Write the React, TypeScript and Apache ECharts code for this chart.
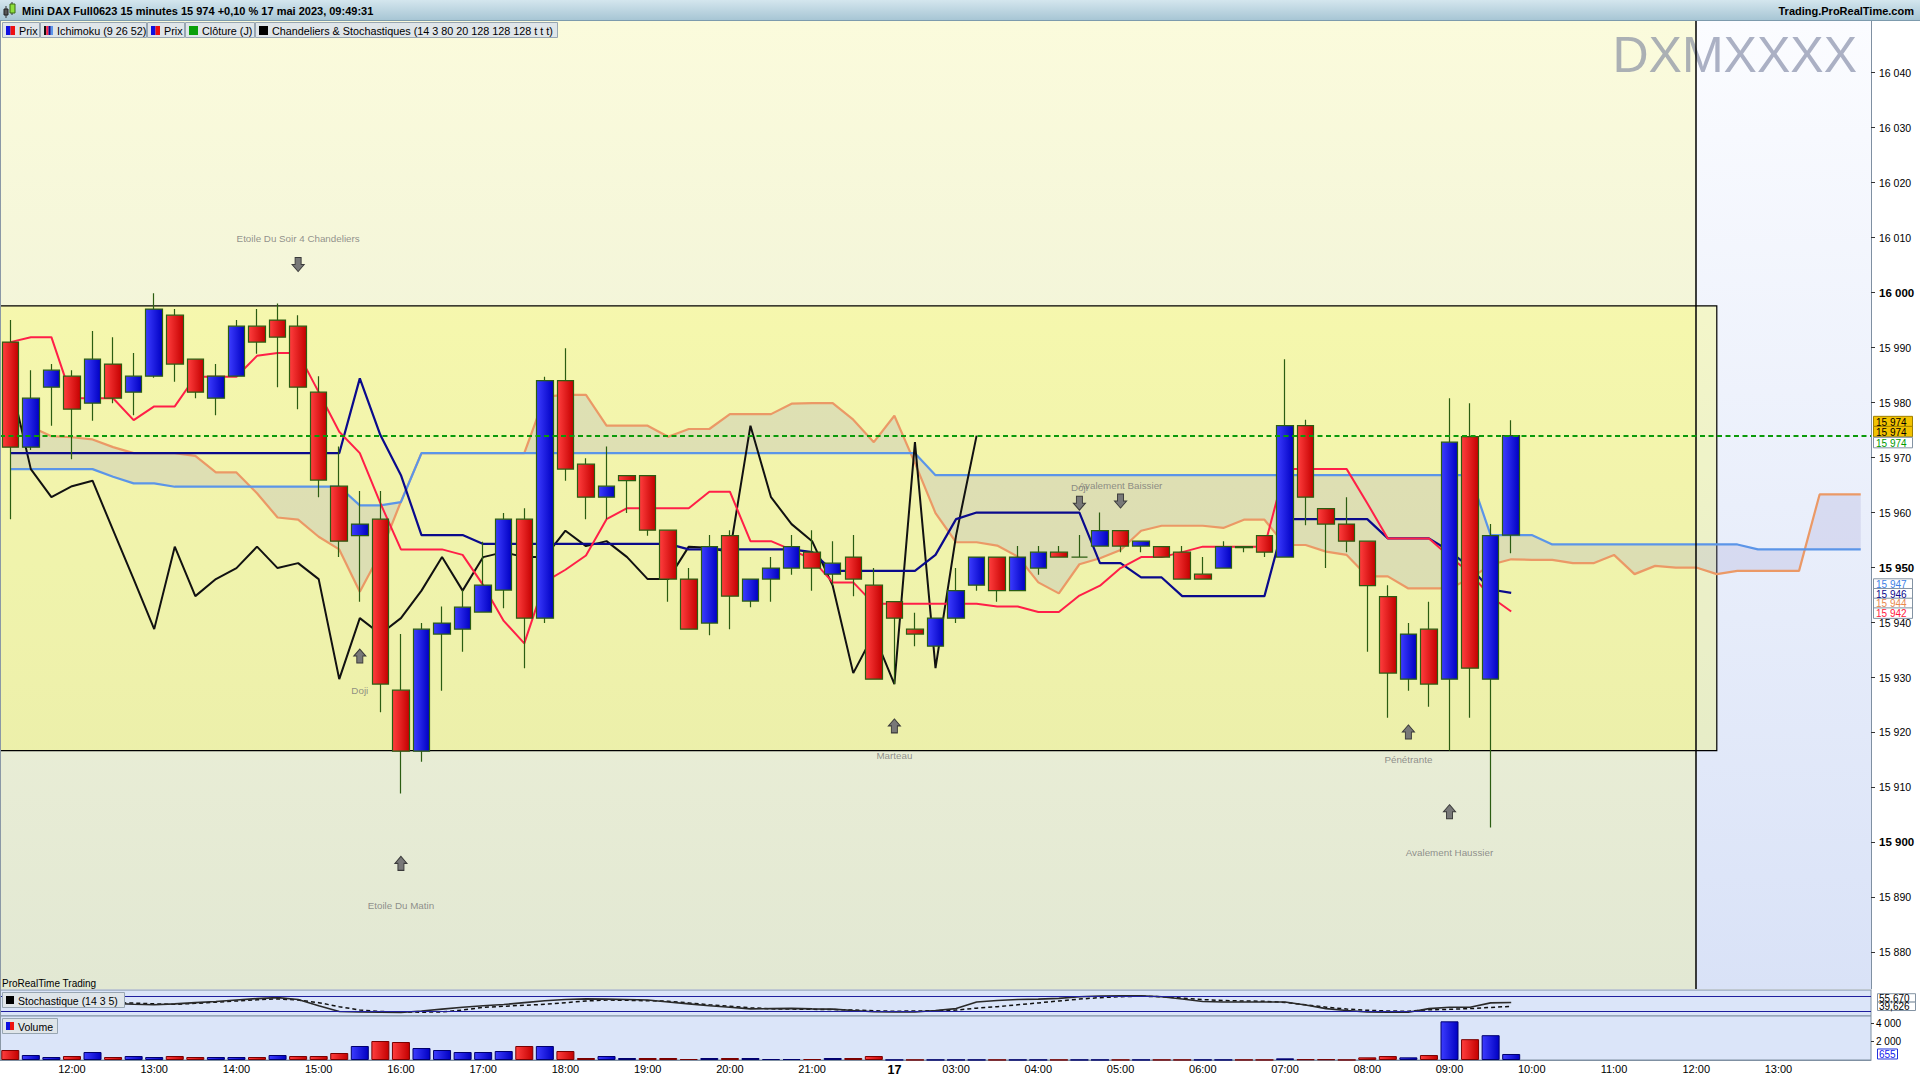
import React, { useEffect, useRef } from "react";
import * as echarts from "echarts";

const FONT = '"Liberation Sans", Arial, Helvetica, sans-serif';

// ---------- categories (15 minute bars) ----------
const day16Times = ["11:15","11:30","11:45","12:00","12:15","12:30","12:45","13:00","13:15","13:30","13:45","14:00","14:15","14:30","14:45","15:00","15:15","15:30","15:45","16:00","16:15","16:30","16:45","17:00","17:15","17:30","17:45","18:00","18:15","18:30","18:45","19:00","19:15","19:30","19:45","20:00","20:15","20:30","20:45","21:00","21:15","21:30","21:45"];
const day17Times = ["02:15","02:30","02:45","03:00","03:15","03:30","03:45","04:00","04:15","04:30","04:45","05:00","05:15","05:30","05:45","06:00","06:15","06:30","06:45","07:00","07:15","07:30","07:45","08:00","08:15","08:30","08:45","09:00","09:15","09:30","09:45"];
const futureTimes = ["10:00","10:15","10:30","10:45","11:00","11:15","11:30","11:45","12:00","12:15","12:30","12:45","13:00","13:15","13:30","13:45","14:00"];
const categories = [
  ...day16Times.map((t) => "16 " + t),
  ...day17Times.map((t) => "17 " + t),
  ...futureTimes.map((t) => "17 " + t),
];
const dayStartIndex = day16Times.length;
const nowLineTime = "17 12:00";

// ---------- OHLC ----------
const opens = [15991.0,15971.9,15982.8,15984.8,15979.9,15987.0,15981.9,15984.8,15995.9,15987.9,
  15980.8,15984.8,15993.9,15995.0,15993.9,15981.9,15964.8,15955.8,15958.8,15927.7,
  15916.6,15937.9,15938.8,15941.9,15945.9,15958.8,15940.8,15984.0,15968.8,15962.8,
  15966.7,15966.7,15956.8,15947.9,15939.9,15955.8,15943.9,15947.9,15949.9,15952.8,
  15948.8,15951.9,15946.8,15943.8,15938.8,15935.7,15940.8,15946.8,15951.9,15945.8,
  15949.9,15952.8,15951.9,15953.9,15956.7,15953.9,15953.8,15952.8,15948.8,15949.9,
  15953.8,15955.8,15951.9,15975.8,15960.7,15957.9,15954.8,15944.7,15929.7,15938.8,
  15929.7,15973.8,15929.7,15955.9];
const closes = [15971.9,15980.8,15985.9,15978.8,15987.9,15980.8,15984.8,15997.0,15987.0,15981.9,
  15984.8,15993.9,15991.0,15991.9,15982.8,15965.9,15954.8,15957.9,15928.8,15916.6,
  15938.8,15939.9,15942.8,15946.8,15958.8,15940.8,15984.0,15967.9,15962.8,15964.8,
  15965.8,15956.8,15947.9,15938.8,15953.8,15944.8,15947.9,15949.9,15953.8,15949.9,
  15950.8,15947.9,15929.7,15940.8,15937.9,15940.8,15945.8,15951.9,15945.8,15951.9,
  15952.8,15951.9,15951.9,15956.7,15953.9,15954.8,15951.9,15947.9,15947.9,15953.8,
  15953.6,15952.8,15975.8,15962.8,15957.9,15954.8,15946.7,15930.8,15937.9,15928.8,
  15972.8,15931.7,15955.8,15974.0];
const lows = [15958.8,15971.4,15975.8,15969.7,15976.7,15979.9,15977.7,15984.5,15983.8,15980.8,
  15977.7,15984.8,15988.9,15982.8,15978.8,15962.8,15951.9,15943.8,15923.7,15908.9,
  15914.7,15927.6,15934.7,15941.9,15942.6,15931.7,15939.9,15965.8,15958.8,15958.8,
  15959.9,15955.8,15943.8,15938.8,15937.7,15938.8,15942.8,15943.8,15948.7,15945.8,
  15946.8,15944.8,15929.7,15928.8,15935.7,15935.7,15939.9,15945.8,15943.8,15945.8,
  15948.7,15951.9,15951.9,15953.9,15952.8,15952.8,15951.9,15947.9,15947.9,15949.9,
  15952.8,15951.9,15951.9,15957.7,15949.9,15952.8,15934.7,15922.7,15927.6,15924.7,
  15916.7,15922.7,15902.7,15952.6];
const highs = [15995.0,15985.9,15987.0,15985.9,15993.0,15991.9,15989.0,15999.9,15997.0,15988.0,
  15987.0,15995.0,15997.0,15998.0,15995.9,15984.8,15972.0,15963.9,15963.9,15937.9,
  15939.9,15942.9,15945.9,15954.7,15959.9,15960.8,15984.7,15989.9,15969.9,15972.0,
  15966.7,15966.7,15956.8,15949.9,15955.9,15956.8,15947.9,15951.9,15955.9,15956.8,
  15954.8,15955.9,15949.9,15943.8,15941.8,15940.8,15949.9,15951.9,15951.9,15953.9,
  15953.9,15953.9,15955.9,15960.0,15956.7,15954.8,15953.8,15953.9,15951.9,15954.8,
  15953.9,15955.8,15987.9,15976.9,15960.7,15962.8,15954.8,15946.8,15939.9,15943.8,
  15980.8,15979.9,15957.9,15976.8];

// ---------- Ichimoku (9 26 52) ----------
const tenkan = [15991.0,15991.9,15991.9,15980.8,15980.8,15980.8,15976.8,15979.3,15979.3,15984.7,
  15984.7,15984.7,15988.5,15989.0,15989.0,15981.9,15974.7,15970.8,15961.7,15953.3,
  15953.3,15953.3,15952.3,15946.8,15940.3,15936.2,15947.4,15949.6,15952.2,15958.8,
  15960.8,15960.8,15960.8,15960.8,15963.8,15963.8,15954.8,15954.8,15953.2,15951.5,
  15947.3,15947.3,15943.4,15943.4,15943.4,15943.4,15943.4,15943.4,15942.9,15942.9,
  15941.9,15941.9,15944.9,15946.7,15949.9,15951.9,15951.9,15952.8,15953.8,15953.8,
  15953.8,15953.8,15967.9,15967.9,15967.9,15967.9,15961.7,15955.3,15955.3,15955.3,
  15952.0,15949.0,15944.7,15942.0];
const kijun = [15970.8,15970.8,15970.8,15970.8,15970.8,15970.8,15970.8,15970.8,15970.8,15970.8,
  15970.8,15970.8,15970.8,15970.8,15970.8,15970.8,15970.8,15984.4,15974.1,15966.8,
  15955.9,15955.9,15955.9,15954.3,15954.3,15954.3,15954.3,15954.3,15954.3,15954.3,
  15954.3,15954.3,15954.3,15953.3,15953.3,15953.3,15953.3,15953.3,15953.3,15952.8,
  15949.4,15949.4,15949.4,15949.4,15949.4,15952.3,15958.8,15960.0,15960.0,15960.0,
  15960.0,15960.0,15960.0,15950.8,15950.8,15948.2,15948.2,15944.8,15944.8,15944.8,
  15944.8,15944.8,15958.8,15958.8,15958.8,15958.8,15958.8,15955.3,15955.3,15955.3,
  15953.0,15950.0,15946.0,15945.4];
const spanA = [15967.9,15967.9,15967.9,15967.9,15967.9,15966.5,15965.3,15965.3,15964.7,15964.7,
  15964.7,15964.7,15964.7,15964.7,15964.7,15964.7,15964.7,15961.3,15961.3,15961.9,
  15970.8,15970.8,15970.8,15970.8,15970.8,15970.8,15970.8,15970.8,15970.8,15970.8,
  15970.8,15970.8,15970.8,15970.8,15970.8,15970.8,15970.8,15970.8,15970.8,15970.8,
  15970.8,15970.8,15970.8,15970.8,15970.8,15966.8,15966.8,15966.8,15966.8,15966.8,
  15966.8,15966.8,15966.8,15966.8,15966.8,15966.8,15966.8,15966.8,15966.8,15966.8,
  15966.8,15966.8,15966.8,15966.8,15966.8,15966.8,15966.8,15966.8,15966.8,15966.8,
  15966.8,15966.8,15955.9,15955.9,15955.9,15954.2,15954.2,15954.2,15954.2,15954.2,
  15954.2,15954.2,15954.2,15954.2,15954.2,15953.3,15953.3,15953.3,15953.3,15953.3,
  15953.3];
const spanB = [15975.8,15975.6,15973.9,15973.7,15973.3,15971.9,15970.8,15970.8,15970.8,15970.3,
  15967.3,15967.3,15963.5,15959.1,15958.7,15955.6,15953.3,15945.6,15952.6,15962.0,
  15970.8,15970.8,15970.8,15970.8,15970.8,15970.8,15981.1,15981.4,15981.4,15975.8,
  15975.8,15975.8,15973.8,15975.2,15975.2,15977.9,15977.9,15977.9,15979.8,15979.9,
  15979.9,15976.9,15972.8,15977.6,15969.0,15959.9,15954.6,15954.6,15954.0,15952.0,
  15947.3,15945.3,15950.6,15951.7,15953.2,15956.7,15957.6,15957.6,15957.6,15957.2,
  15958.7,15958.7,15954.1,15954.1,15952.9,15952.3,15948.4,15948.4,15946.2,15946.2,
  15946.2,15948.0,15950.5,15951.5,15951.4,15951.4,15950.8,15950.8,15952.3,15948.8,
  15950.3,15950.0,15950.0,15948.8,15949.4,15949.4,15949.4,15949.4,15963.3,15963.3,
  15963.3];
const CHIKOU_SHIFT = 26;

// ---------- Stochastic (14 3 5) ----------
const stochK = [55,55,54,54,54,52,48,46,50,55, 60,66,72,76,68,42,18,16,15,14,
  20,28,36,42,47,55,63,68,71,70, 68,66,58,50,42,36,29,30,31,29,
  28,22,17,16,16,22,30,58,64,68, 70,73,80,83,84,84,80,70,60,58,
  58,58,58,45,30,22,16,15,15,30, 36,36,54,55.67];
const stochD = [57,57,57,57,57,56,53,50,48,52, 57,62,67,71,66,55,38,24,18,16,
  15,16,24,35,40,44,48,55,62,66, 65,63,61,54,46,40,34,29,28,27,
  26,24,21,19,20,21,24,32,38,46, 54,62,70,76,80,82,80,74,68,64,
  62,61,56,46,36,28,23,20,19,25, 27,30,35,39.626];
const stochLevels = [80, 20];

// ---------- Volume ----------
const volumes = [1090,545,327,436,872,327,436,327,436,327, 327,327,327,545,436,436,763,1526,2071,1962,
  1308,1090,872,872,981,1526,1526,981,218,436, 218,218,218,109,218,218,218,109,109,109,
  218,218,436,20,20,20,20,20,20,20, 20,20,20,20,20,20,20,20,20,20,
  20,20,180,72,72,20,288,432,288,540, 4216,2270,2703,655];

// ---------- annotations / levels ----------
const lastClose = 15974;
const rectTop = 15997.6;
const rectBottom = 15916.7;
const rectEndIndex = 83;
const patterns = [
  { i: 14, dir: "down", arrow: 16005.1, label: 16009.8, text: "Etoile Du Soir 4 Chandeliers" },
  { i: 17, dir: "up", arrow: 15933.9, label: 15927.6, text: "Doji" },
  { i: 19, dir: "up", arrow: 15896.2, label: 15888.5, text: "Etoile Du Matin" },
  { i: 43, dir: "up", arrow: 15921.2, label: 15915.8, text: "Marteau" },
  { i: 52, dir: "down", arrow: 15961.7, label: 15964.6, text: "Doji" },
  { i: 54, dir: "down", arrow: 15962.1, label: 15965.0, text: "Avalement Baissier" },
  { i: 68, dir: "up", arrow: 15920.1, label: 15915.1, text: "Pénétrante" },
  { i: 70, dir: "up", arrow: 15905.6, label: 15898.2, text: "Avalement Haussier" },
];
const lineTags = [
  { v: 15947, color: "#3d7fe6" },
  { v: 15946, color: "#0a0a8c" },
  { v: 15944, color: "#e8884e" },
  { v: 15942, color: "#ff1a40" },
];
const stochTags = [55.67, 39.626];
const lastVolume = 655;

// ---------- layout ----------
const W = 1920, H = 1080;
const PLOT_RIGHT = 1871;
const MAIN_TOP = 21, MAIN_BOTTOM = 989;
const Y_MIN = 15873.35, Y_MAX = 16049.4;
const ST_TOP = 990, ST_BOTTOM = 1016;
const VOL_TOP = 1016, VOL_BOTTOM = 1060;

const grad = (c1: string, c2: string, horizontal = true) => ({
  type: "linear", x: 0, y: 0, x2: horizontal ? 1 : 0, y2: horizontal ? 0 : 1,
  colorStops: [{ offset: 0, color: c1 }, { offset: 1, color: c2 }],
});
const UP_FILL = grad("#3c3cff", "#0000c2");
const DOWN_FILL = grad("#ff3e3e", "#c40000");
const WICK = "#2b5d12";

const fmtThousands = (v: number) => String(Math.round(v)).replace(/\B(?=(\d{3})+(?!\d))/g, " ");
const UP_ARROW = "path://M6,0 L12,7 L9,7 L9,14 L3,14 L3,7 L0,7 Z";
const DOWN_ARROW = "path://M3,0 L9,0 L9,7 L12,7 L6,14 L0,7 L3,7 Z";

function buildOption(): any {
  const candles = opens.map((o, i) => [o, closes[i], lows[i], highs[i]]);
  const chikou = closes.slice(CHIKOU_SHIFT);
  const nowIdx = categories.indexOf(nowLineTime);
  const gridCommon = { left: 0, right: W - PLOT_RIGHT, outerBoundsMode: "none", containLabel: false };
  const lineS = (data: number[], color: string, width = 2) => ({
    type: "line", xAxisIndex: 0, yAxisIndex: 0, data, symbol: "none", showSymbol: false,
    silent: true, z: 3, lineStyle: { color, width }, animation: false,
  });
  return {
    animation: false,
    backgroundColor: "#ffffff",
    textStyle: { fontFamily: FONT },
    grid: [
      { ...gridCommon, top: MAIN_TOP, height: MAIN_BOTTOM - MAIN_TOP, show: false },
      { ...gridCommon, top: ST_TOP, height: ST_BOTTOM - ST_TOP, show: true, backgroundColor: "#dbe5f9", borderColor: "#7f90a2", borderWidth: 1 },
      { ...gridCommon, top: VOL_TOP, height: VOL_BOTTOM - VOL_TOP, show: true, backgroundColor: "#dbe5f9", borderColor: "#7f90a2", borderWidth: 1 },
    ],
    xAxis: [
      { type: "category", gridIndex: 0, data: categories, boundaryGap: true, show: false },
      { type: "value", gridIndex: 0, min: -0.5, max: categories.length - 0.5, show: false },
      { type: "category", gridIndex: 1, data: categories, boundaryGap: true, show: false },
      {
        type: "category", gridIndex: 2, data: categories, boundaryGap: true,
        axisLine: { show: true, onZero: false, lineStyle: { color: "#7f90a2" } },
        axisTick: { show: false },
        axisLabel: {
          show: true, margin: 3, color: "#000", fontSize: 11, fontFamily: FONT,
          interval: (index: number) => {
            if (index === dayStartIndex) return true;
            return categories[index].endsWith(":00") && index < categories.length - 1;
          },
          formatter: (value: string, index: number) => (index === dayStartIndex ? "{d|17}" : value.slice(3)),
          rich: { d: { fontWeight: "bold", fontSize: 12.5, fontFamily: FONT, color: "#000" } },
        },
      },
    ],
    yAxis: [
      {
        type: "value", gridIndex: 0, position: "right", min: Y_MIN, max: Y_MAX, splitNumber: 18,
        splitLine: { show: false },
        axisLine: { show: true, onZero: false, lineStyle: { color: "#7f90a2", width: 1 } },
        axisTick: { show: true, length: 4, lineStyle: { color: "#333" } },
        axisLabel: {
          show: true, margin: 8, color: "#000", fontSize: 10.5, fontFamily: FONT,
          showMinLabel: false, showMaxLabel: false,
          formatter: (v: number) => {
            const r = Math.round(v);
            const s = fmtThousands(r);
            return r % 50 === 0 ? `{b|${s}}` : s;
          },
          rich: { b: { fontWeight: "bold", fontSize: 11.5, fontFamily: FONT, color: "#000" } },
        },
      },
      { type: "value", gridIndex: 1, position: "right", min: -1, max: 108.1, show: false, axisLine: { onZero: false } },
      {
        type: "value", gridIndex: 2, position: "right", min: 0, max: 4796, interval: 2000,
        splitLine: { show: false },
        axisLine: { show: false, onZero: false },
        axisTick: { show: true, length: 3, lineStyle: { color: "#333" } },
        axisLabel: {
          show: true, margin: 5, color: "#000", fontSize: 10, fontFamily: FONT,
          showMinLabel: false, showMaxLabel: false,
          formatter: (v: number) => fmtThousands(v),
        },
      },
    ],
    series: [
      // backgrounds (yellow before the 12:00 line, blue after)
      {
        type: "line", xAxisIndex: 1, yAxisIndex: 0, data: [[0, 15950]], symbol: "none",
        lineStyle: { opacity: 0 }, silent: true, z: 0,
        markArea: {
          silent: true, z: 0,
          data: [
            [{ xAxis: -0.5, yAxis: Y_MAX, itemStyle: { color: grad("#fbfbdc", "#e2e8d3", false) } }, { xAxis: nowIdx, yAxis: Y_MIN }],
            [{ xAxis: nowIdx, yAxis: Y_MAX, itemStyle: { color: grad("#fbfcff", "#d9e2f7", false) } }, { xAxis: categories.length - 0.5, yAxis: Y_MIN }],
          ],
        },
      },
      // rectangle zone + vertical "now" line
      {
        type: "line", xAxisIndex: 1, yAxisIndex: 0, data: [[0, 15950]], symbol: "none",
        lineStyle: { opacity: 0 }, silent: true, z: 1,
        markArea: {
          silent: true, z: 1,
          itemStyle: { color: "rgba(255,255,0,0.2)", borderColor: "#000", borderWidth: 1.2 },
          data: [[{ xAxis: -0.5, yAxis: rectTop }, { xAxis: rectEndIndex, yAxis: rectBottom }]],
        },
        markLine: {
          silent: true, z: 5, symbol: ["none", "none"], label: { show: false },
          lineStyle: { color: "#000", width: 1.5, type: "solid" },
          data: [{ xAxis: nowIdx }],
        },
      },
      // Kumo fill
      {
        type: "custom", xAxisIndex: 0, yAxisIndex: 0, z: 2, silent: true,
        data: [[0, spanA[0]]],
        renderItem: (params: any, api: any) => {
          if (params.dataIndex !== 0) return null;
          const pts: number[][] = [];
          for (let i = 0; i < spanA.length; i++) pts.push(api.coord([i, spanA[i]]));
          for (let i = spanB.length - 1; i >= 0; i--) pts.push(api.coord([i, spanB[i]]));
          return { type: "polygon", shape: { points: pts }, style: { fill: "rgba(150,150,205,0.22)" } };
        },
      },
      lineS(spanB, "#eb9966", 2.2),
      lineS(spanA, "#5b95e8", 2.2),
      lineS(chikou, "#111111", 2),
      lineS(kijun, "#0a0a8c", 2.2),
      lineS(tenkan, "#ff1f48", 2),
      {
        type: "candlestick", xAxisIndex: 0, yAxisIndex: 0, data: candles, z: 4, silent: true,
        barWidth: 17,
        itemStyle: {
          color: UP_FILL, color0: DOWN_FILL, borderColor: WICK, borderColor0: WICK,
          borderColorDoji: WICK, borderWidth: 1.2,
        },
        markLine: {
          silent: true, z: 5, symbol: ["none", "none"], label: { show: false },
          lineStyle: { color: "#0a9a0a", width: 2, type: [5, 3.5] },
          data: [{ yAxis: lastClose }],
        },
      },
      // pattern arrows
      {
        type: "scatter", xAxisIndex: 0, yAxisIndex: 0, z: 6, silent: true,
        symbolSize: [12, 14],
        itemStyle: { color: "#787878", borderColor: "#3a3a3a", borderWidth: 1, opacity: 1 },
        data: patterns.map((p) => ({ value: [p.i, p.arrow], symbol: p.dir === "up" ? UP_ARROW : DOWN_ARROW })),
      },
      // pattern labels
      {
        type: "scatter", xAxisIndex: 0, yAxisIndex: 0, z: 6, silent: true,
        symbolSize: 1, itemStyle: { color: "rgba(0,0,0,0)" },
        label: { show: true, position: "inside", formatter: "{b}", color: "#767676", fontSize: 9.8, fontFamily: FONT },
        data: patterns.map((p) => ({ value: [p.i, p.label], name: p.text })),
      },
      // stochastic
      {
        type: "line", xAxisIndex: 2, yAxisIndex: 1, data: stochD, symbol: "none", silent: true, z: 3,
        lineStyle: { color: "#111", width: 1.5, type: [4, 3] },
        markLine: {
          silent: true, symbol: ["none", "none"], label: { show: false },
          lineStyle: { color: "#1f1f9e", width: 1.2, type: "solid" },
          data: stochLevels.map((l) => ({ yAxis: l })),
        },
      },
      {
        type: "line", xAxisIndex: 2, yAxisIndex: 1, data: stochK, symbol: "none", silent: true, z: 4,
        lineStyle: { color: "#2a2a2a", width: 1.6 },
      },
      // volume
      {
        type: "bar", xAxisIndex: 3, yAxisIndex: 2, barWidth: 18, silent: true, z: 3,
        data: volumes.map((v, i) => {
          const up = i > 0 && closes[i] >= closes[i - 1];
          return {
            value: v,
            itemStyle: up
              ? { color: UP_FILL, borderColor: "#00006e", borderWidth: 1 }
              : { color: DOWN_FILL, borderColor: "#7a0000", borderWidth: 1 },
          };
        }),
      },
    ],
  };
}

function txt(x: number, y: number, text: string, font: string, fill: string, align = "left", z = 10) {
  return {
    type: "text", z, x, y, silent: true,
    style: { text, font, fill, align, textAlign: align, verticalAlign: "middle", textVerticalAlign: "middle" },
  };
}
function rect(x: number, y: number, w: number, h: number, fill: any, stroke?: string, z = 10, lineWidth = 1) {
  return {
    type: "rect", z, silent: true, shape: { x, y, width: w, height: h },
    style: { fill, stroke: stroke || null, lineWidth },
  };
}

function buildGraphics(chart: any) {
  const py = (v: number, idx: number) => chart.convertToPixel({ yAxisIndex: idx }, v) as number;
  const els: any[] = [];
  const F = (size: number, bold = false) => `${bold ? "bold " : ""}${size}px ${FONT}`;

  // header bar
  els.push(rect(0, 0, W, 21, grad("#d4e6ee", "#a5c4d3", false), undefined, 10));
  els.push({ type: "line", z: 10, silent: true, shape: { x1: 0, y1: 20.5, x2: W, y2: 20.5 }, style: { stroke: "#7d9bad", lineWidth: 1 } });
  // header icon
  els.push({ type: "line", z: 11, silent: true, shape: { x1: 6, y1: 6, x2: 6, y2: 18 }, style: { stroke: "#333", lineWidth: 1 } });
  els.push(rect(4, 9, 4, 6, "#555555", "#222", 11));
  els.push({ type: "line", z: 11, silent: true, shape: { x1: 12, y1: 2, x2: 12, y2: 15 }, style: { stroke: "#333", lineWidth: 1 } });
  els.push(rect(10, 4, 5, 9, "#8ee03c", "#3b6b12", 11));
  els.push(txt(22, 11, "Mini DAX Full0623 15 minutes 15 974 +0,10 % 17 mai 2023, 09:49:31", F(11, true), "#000"));
  els.push(txt(1914, 11, "Trading.ProRealTime.com", F(11, true), "#000", "right"));

  // legend boxes
  const legend = [
    { x: 2, w: 37, text: "Prix", icon: "prix" },
    { x: 40, w: 106, text: "Ichimoku (9 26 52)", icon: "ichi" },
    { x: 147, w: 37, text: "Prix", icon: "prix" },
    { x: 185, w: 69, text: "Clôture (J)", icon: "green" },
    { x: 255, w: 302, text: "Chandeliers & Stochastiques (14 3 80 20 128 128 128 t t t)", icon: "black" },
  ];
  legend.forEach((l) => {
    els.push(rect(l.x + 0.5, 22.5, l.w, 15, "#dfe5e9", "#98a6b2", 10));
    const ix = l.x + 4, iy = 26, iw = 9, ih = 9;
    if (l.icon === "prix") {
      els.push(rect(ix, iy, 4.5, ih, "#1010e0", undefined, 11));
      els.push(rect(ix + 4.5, iy, 4.5, ih, "#ee1010", undefined, 11));
    } else if (l.icon === "ichi") {
      const cols = ["#111111", "#ff1f48", "#0a0a8c", "#5b95e8"];
      cols.forEach((c, k) => els.push(rect(ix + k * 2.25, iy, 2.25, ih, c, undefined, 11)));
    } else if (l.icon === "green") {
      els.push(rect(ix, iy, iw, ih, "#0aa00a", undefined, 11));
    } else {
      els.push(rect(ix, iy, iw, ih, "#000000", undefined, 11));
    }
    els.push(txt(l.x + 17, 30.5, l.text, F(10.8), "#000"));
  });

  // watermark
  els.push(txt(1857, 55, "DXMXXXX", F(50), "rgba(105,115,148,0.55)", "right", 1));

  // left border
  els.push({ type: "line", z: 10, silent: true, shape: { x1: 0.5, y1: 21, x2: 0.5, y2: VOL_BOTTOM }, style: { stroke: "#8a98a6", lineWidth: 1 } });

  // ProRealTime Trading
  els.push(txt(2, 983.5, "ProRealTime Trading", F(10), "#000"));

  // stochastic label box
  els.push(rect(2.5, 992.5, 122, 15, "#dfe5e9", "#98a6b2", 10));
  els.push(rect(6, 996, 8, 8, "#000", undefined, 11));
  els.push(txt(18, 1000.5, "Stochastique (14 3 5)", F(10.5), "#000"));
  // volume label box
  els.push(rect(2.5, 1018.5, 55, 15, "#dfe5e9", "#98a6b2", 10));
  els.push(rect(6, 1022, 4, 8, "#1010e0", undefined, 11));
  els.push(rect(10, 1022, 4, 8, "#ee1010", undefined, 11));
  els.push(txt(18, 1026.5, "Volume", F(10.5), "#000"));

  // right axis tags
  const TAG_X = 1873, TAG_W = 39, TAG_H = 10.5;
  const tag = (cy: number, text: string, fill: string, color: string, stroke = "#8393a3", w = TAG_W) => {
    els.push(rect(TAG_X + 0.5, cy - TAG_H / 2, w, TAG_H, fill, stroke, 12));
    els.push({ ...txt(TAG_X + 3, cy + 0.5, text, F(10), color, "left", 13) });
  };
  const yClose = py(lastClose, 0);
  const closeLabel = fmtThousands(lastClose);
  tag(yClose - 14, closeLabel, "#f2c200", "#000", "#a08000");
  tag(yClose - 4, closeLabel, "#f2c200", "#000", "#a08000");
  tag(yClose + 7, closeLabel, "#ffffff", "#009a00");

  let prev = -Infinity;
  lineTags.forEach((t) => {
    let y = py(t.v, 0);
    y = Math.max(y, prev + 9.7);
    prev = y;
    tag(y, fmtThousands(t.v), "#ffffff", t.color);
  });

  const sy = stochTags.map((v) => py(v, 1));
  const sy1 = sy[1];
  const sy0 = Math.min(sy[0], sy1 - 8.4);
  const fmtDec = (v: number) => v.toFixed(3).replace(".", ",");
  els.push(rect(1877.5, sy0 - 4.2, 38, 8.4, "#ffffff", "#8393a3", 12));
  els.push(txt(1879, sy0 + 0.3, fmtDec(stochTags[0]), F(10), "#000", "left", 13));
  els.push(rect(1877.5, sy1 - 4.2, 38, 8.4, "#ffffff", "#8393a3", 12));
  els.push(txt(1879, sy1 + 0.3, fmtDec(stochTags[1]), F(10), "#000", "left", 13));

  const vy = py(lastVolume, 2);
  els.push(rect(1877.5, vy - 5, 20, 10, "#ffffff", "#2233dd", 12));
  els.push(txt(1879, vy + 0.5, String(lastVolume), F(10), "#1020ee", "left", 13));

  return els;
}

export default function App() {
  const ref = useRef<HTMLDivElement>(null);
  useEffect(() => {
    if (!ref.current) return;
    const chart = echarts.init(ref.current, null, { renderer: "svg", width: W, height: H });
    chart.setOption(buildOption());
    chart.setOption({ graphic: { elements: buildGraphics(chart) } });
    return () => chart.dispose();
  }, []);
  return (
    <div
      ref={ref}
      style={{ position: "fixed", left: 0, top: 0, width: W, height: H, background: "#ffffff" }}
    />
  );
}
